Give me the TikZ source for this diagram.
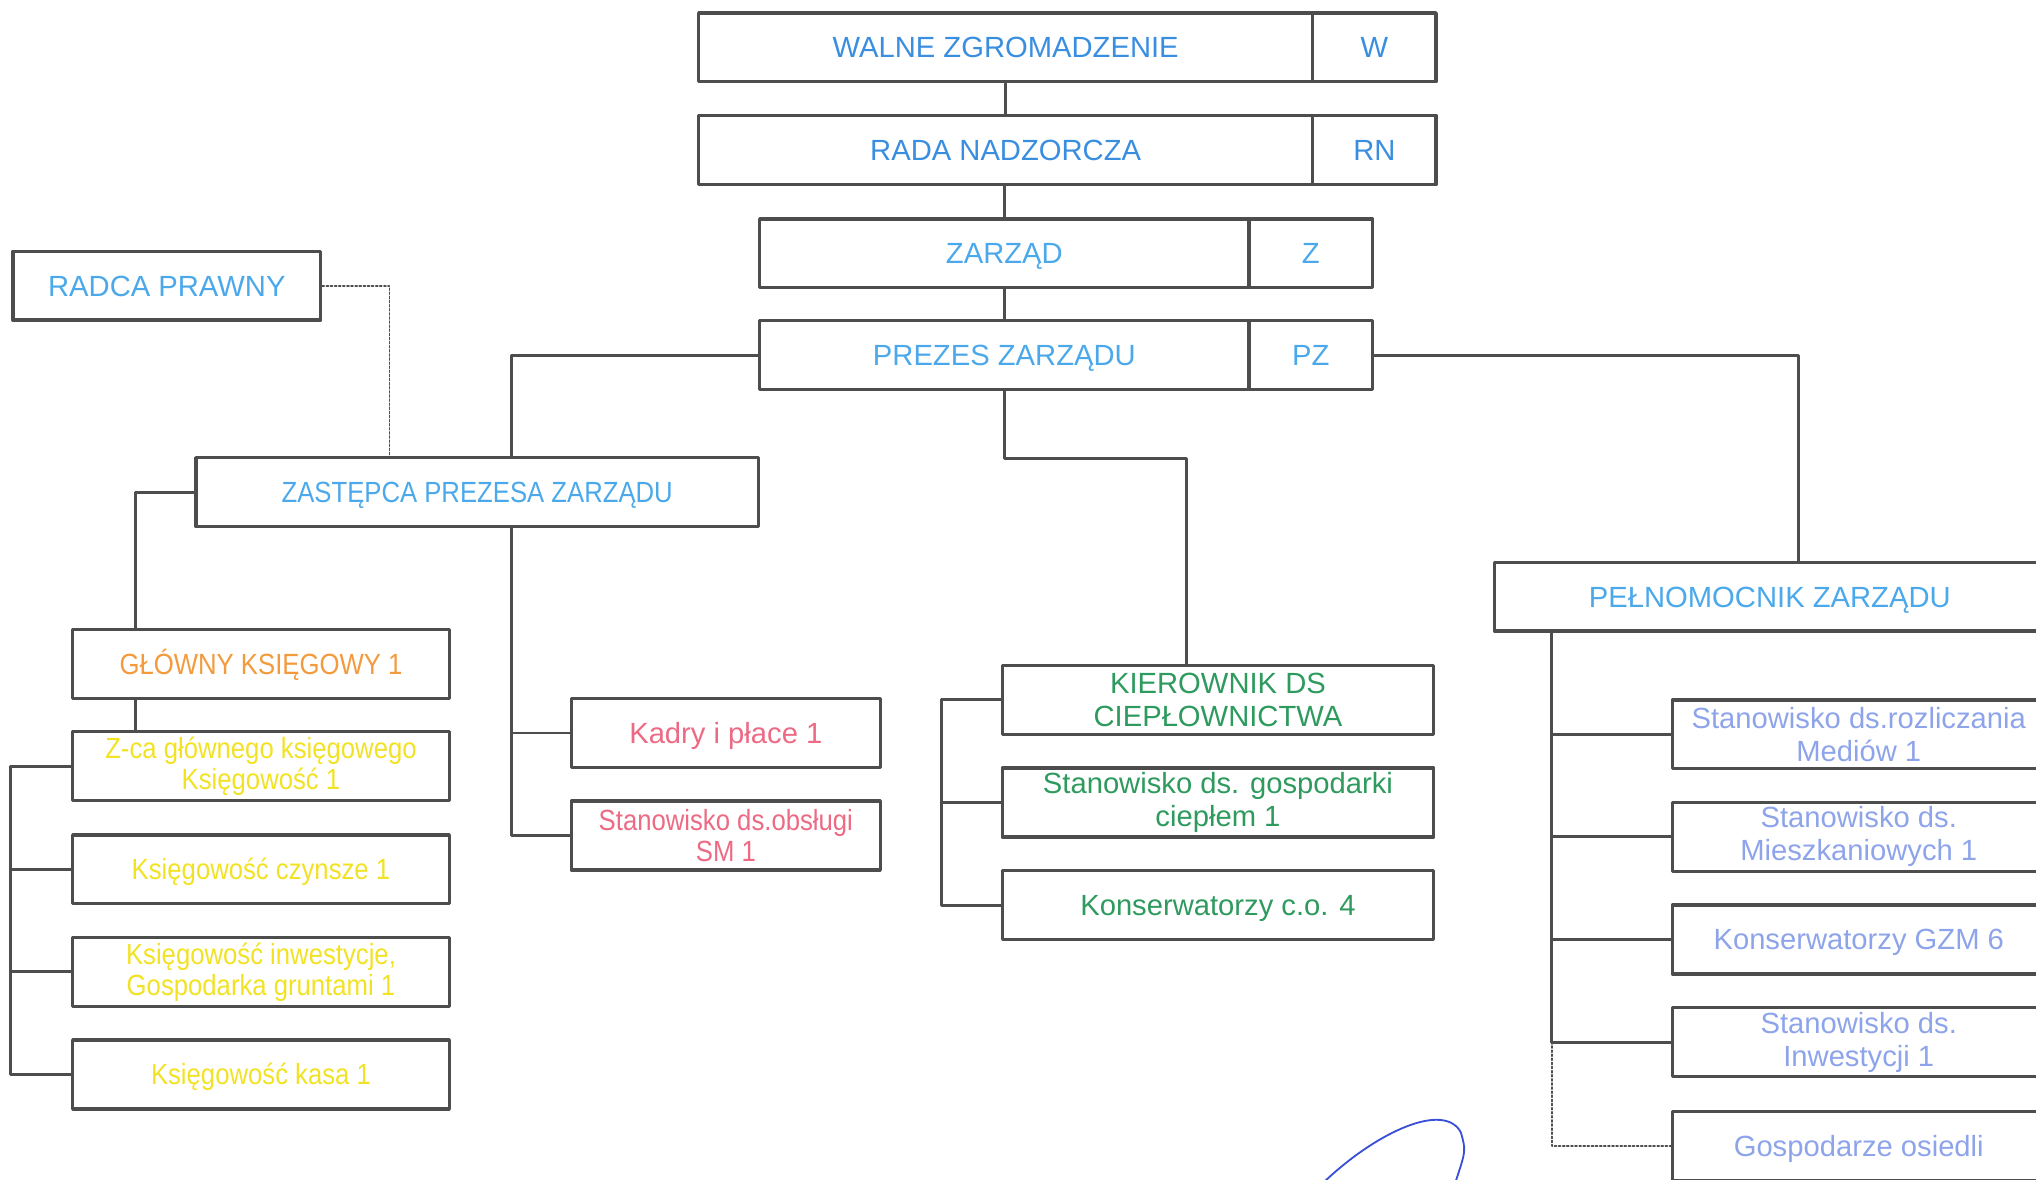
\documentclass[tikz,border=0pt]{standalone}
\usepackage{fontspec}
\setmainfont{Liberation Sans}
\newfontfamily\narrowfont[FakeStretch=0.88]{Liberation Sans}
\usepackage{xcolor}
\usepackage{tikz}
\usetikzlibrary{calc}
\definecolor{linegray}{HTML}{4D4D4D}
\definecolor{topblue}{HTML}{3A8EE0}
\definecolor{skyblue}{HTML}{4BA8EA}
\definecolor{chieforange}{HTML}{F39A3C}
\definecolor{accyellow}{HTML}{F2E224}
\definecolor{hrpink}{HTML}{EC6A84}
\definecolor{heatgreen}{HTML}{2E9A5E}
\definecolor{estlavender}{HTML}{8EA4EA}
\definecolor{signblue}{HTML}{3A4FD8}
\tikzstyle{box} = [draw=linegray, line width=1.5pt, minimum height=1.06cm, inner sep=0pt, align=center, font=\fontsize{12.8}{15}\selectfont]
\tikzstyle{one} = [text height=9.2pt, text depth=0pt]
\tikzstyle{conn} = [draw=linegray, line width=1.3pt]
\tikzstyle{dots} = [draw=linegray, line width=0.8pt, densely dotted]

\begin{document}
\begin{tikzpicture}[x=0.02cm,y=-0.02cm,line cap=round,line join=round]
\useasboundingbox (0,0) rectangle (1568,908);
\node[box, one, minimum width=9.46cm, text=topblue] (wz) at (774.5,36.5) {WALNE ZGROMADZENIE};
\node[box, one, minimum width=1.9cm, text=topblue] (wzk) at (1058.5,36.5) {W};
\node[box, one, minimum width=9.46cm, text=topblue] (rn) at (774.5,115.5) {RADA NADZORCZA};
\node[box, one, minimum width=1.9cm, text=topblue] (rnk) at (1058.5,115.5) {RN};
\node[box, one, minimum width=7.54cm, text=skyblue] (zz) at (773.5,195) {ZARZĄD};
\node[box, one, minimum width=1.9cm, text=skyblue] (zzk) at (1009.5,195) {Z};
\node[box, one, minimum width=7.54cm, text=skyblue] (pz) at (773.5,273.5) {PREZES ZARZĄDU};
\node[box, one, minimum width=1.9cm, text=skyblue] (pzk) at (1009.5,273.5) {PZ};
\node[box, one, minimum width=4.74cm, text=skyblue] (radca) at (128.5,220) {RADCA PRAWNY};
\node[box, one, minimum width=8.66cm, text=skyblue, font=\narrowfont\fontsize{12.8}{15}\selectfont] (zast) at (367.5,379) {ZASTĘPCA PREZESA ZARZĄDU};

\node[box, one, minimum width=5.8cm, text=chieforange, font=\narrowfont\fontsize{12.8}{15}\selectfont] (glow) at (201,511.5) {GŁÓWNY KSIĘGOWY 1};
\node[box, minimum width=5.8cm, text=accyellow, font=\narrowfont\fontsize{12.8}{13.5}\selectfont] (zca) at (201,590) {Z-ca głównego księgowego\\Księgowość 1};
\node[box, one, minimum width=5.8cm, text=accyellow, font=\narrowfont\fontsize{12.8}{13.5}\selectfont] (czyn) at (201,669.5) {Księgowość czynsze 1};
\node[box, minimum width=5.8cm, text=accyellow, font=\narrowfont\fontsize{12.8}{13.5}\selectfont] (inw) at (201,748.5) {Księgowość inwestycje,\\Gospodarka gruntami 1};
\node[box, one, minimum width=5.8cm, text=accyellow, font=\narrowfont\fontsize{12.8}{13.5}\selectfont] (kasa) at (201,827.5) {Księgowość kasa 1};

\node[box, one, minimum width=4.76cm, text=hrpink] (kadry) at (559,564.5) {Kadry i płace 1};
\node[box, minimum width=4.76cm, text=hrpink, font=\narrowfont\fontsize{12.8}{14}\selectfont] (obsl) at (559,643.5) {Stanowisko ds.obsługi\\SM 1};

\node[box, minimum width=6.64cm, text=heatgreen, font=\fontsize{12.8}{14.5}\selectfont] (kier) at (938,539) {KIEROWNIK DS\\CIEPŁOWNICTWA};
\node[box, minimum width=6.64cm, text=heatgreen, font=\fontsize{12.8}{14.5}\selectfont] (ciep) at (938,618) {Stanowisko ds. gospodarki\\ciepłem 1};
\node[box, one, minimum width=6.64cm, text=heatgreen] (kons) at (938,697) {Konserwatorzy c.o. 4};

\node[box, one, minimum width=8.48cm, text=skyblue] (pelno) at (1363,459.5) {PEŁNOMOCNIK ZARZĄDU};
\node[box, minimum width=5.74cm, text=estlavender, font=\fontsize{12.8}{14.5}\selectfont] (med) at (1431.5,565.5) {Stanowisko ds.rozliczania\\Mediów 1};
\node[box, minimum width=5.74cm, text=estlavender, font=\fontsize{12.8}{14.5}\selectfont] (mies) at (1431.5,644.5) {Stanowisko ds.\\Mieszkaniowych 1};
\node[box, one, minimum width=5.74cm, text=estlavender] (gzm) at (1431.5,723.5) {Konserwatorzy GZM 6};
\node[box, minimum width=5.74cm, text=estlavender, font=\fontsize{12.8}{14.5}\selectfont] (inwe) at (1431.5,802.5) {Stanowisko ds.\\Inwestycji 1};
\node[box, one, minimum width=5.74cm, text=estlavender] (gosp) at (1431.5,882.5) {Gospodarze osiedli};

\coordinate (kiertop) at (914,353);
\coordinate (zasttop) at (394,352);
\coordinate (pelntop) at (1385,433);
\coordinate (radtop) at (300,352);
\coordinate (glowtop) at (104,485);
\coordinate (lbus) at (8,0);
\coordinate (mbus) at (394,0);
\coordinate (gbus) at (725,0);
\coordinate (rbus) at (1195,0);

\draw[conn] (wz.south) -- (rn.north);
\draw[conn] (zz.north |- rn.south) -- (zz.north);
\draw[conn] (zz.south) -- (pz.north);
\draw[conn] (pz.south) |- (kiertop) -- (kiertop |- kier.north);
\draw[conn] (pz.west) -| (zasttop);
\draw[conn] (pzk.east) -| (pelntop);
\draw[dots] (radca.east) -| (radtop);
\draw[conn] (zast.west) -| (glowtop);
\draw[conn] (glowtop |- glow.south) -- (glowtop |- zca.north);
\draw[conn] (zca.west) -| (lbus |- kasa.west) -- (kasa.west);
\foreach \n in {czyn,inw}
  \draw[conn] (\n.west) -- (\n.west -| lbus);
\draw[conn] (zast.south -| mbus) |- (obsl.west);
\draw[conn] (kadry.west) -- (kadry.west -| mbus);
\draw[conn] (kier.west) -| (gbus |- kons.west) -- (kons.west);
\draw[conn] (ciep.west) -- (ciep.west -| gbus);
\draw[conn] (pelno.south -| rbus) |- (inwe.west);
\foreach \n in {med,mies,gzm}
  \draw[conn] (\n.west) -- (\n.west -| rbus);
\draw[dots] (inwe.west -| rbus) |- (gosp.west);

\draw[signblue, line width=0.8pt] (1020,910) .. controls (1060,872) and (1112,848) .. (1125,872) .. controls (1129,886) .. (1121,910);
\end{tikzpicture}
\end{document}
